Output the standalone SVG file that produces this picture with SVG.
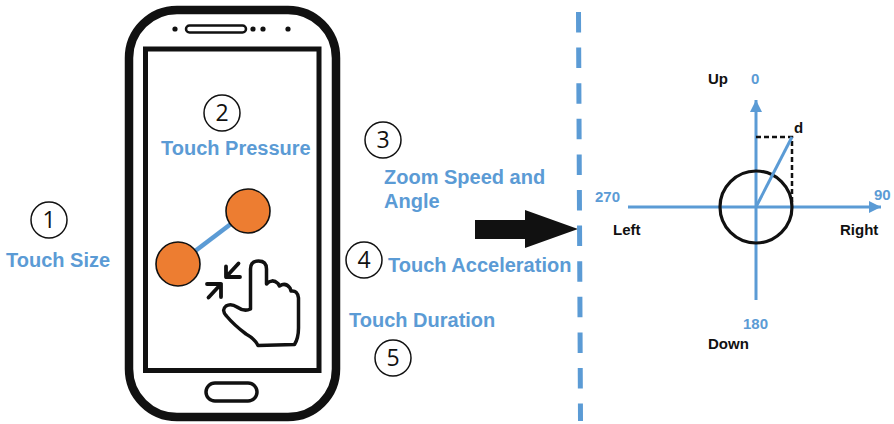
<svg xmlns="http://www.w3.org/2000/svg" width="894" height="424" viewBox="0 0 894 424">
  <defs>
    <style>
      .lbl { font-family: "Liberation Sans", Arial, sans-serif; font-weight: bold; font-size: 20px; fill: #5B9BD5; }
      .num { font-family: "Open Sans", "Liberation Sans", sans-serif; font-size: 23px; fill: #111; text-anchor: middle; }
      .ring { fill: none; stroke: #111; stroke-width: 1.5; }
      .axlbl { font-family: "Liberation Sans", Arial, sans-serif; font-weight: bold; font-size: 15px; fill: #111; }
      .axnum { font-family: "Liberation Sans", Arial, sans-serif; font-weight: bold; font-size: 15px; fill: #5B9BD5; }
      .axis { stroke: #5B9BD5; stroke-width: 3; fill: none; }
      .ink { stroke: #111; fill: none; stroke-linecap: round; stroke-linejoin: round; }
    </style>
    <marker id="axHead" markerUnits="userSpaceOnUse" markerWidth="13" markerHeight="13" refX="12" refY="6" orient="auto">
      <path d="M0,0 L12,6 L0,12 Z" fill="#5B9BD5"/>
    </marker>
  </defs>

  <rect width="894" height="424" fill="#ffffff"/>

  <!-- smartphone body -->
  <g id="phone">
    <rect x="129" y="10" width="207" height="407" rx="48" ry="48" fill="#ffffff" stroke="#111" stroke-width="8.5"/>
    <rect x="145.5" y="49" width="173.5" height="321.5" fill="#ffffff" stroke="#111" stroke-width="5"/>
    <!-- earpiece and sensors -->
    <rect x="186" y="25.5" width="60" height="7" rx="3.5" fill="#ffffff" stroke="#111" stroke-width="2.5"/>
    <circle cx="175" cy="29" r="2.6" fill="#111"/>
    <circle cx="253" cy="29" r="2.6" fill="#111"/>
    <circle cx="263" cy="29" r="2.6" fill="#111"/>
    <circle cx="288" cy="29" r="2.6" fill="#111"/>
    <!-- home button -->
    <rect x="206" y="383" width="51" height="18" rx="9" fill="#ffffff" stroke="#111" stroke-width="3.5"/>
  </g>

  <!-- pinch gesture on the screen -->
  <g id="pinch">
    <line x1="178" y1="264" x2="248" y2="211" stroke="#5B9BD5" stroke-width="4.5"/>
    <circle cx="178" cy="264" r="22" fill="#ED7D31" stroke="#111" stroke-width="1.6"/>
    <circle cx="248" cy="211" r="22" fill="#ED7D31" stroke="#111" stroke-width="1.6"/>
    <!-- inward arrows -->
    <path class="ink" stroke-width="3.8" d="M238.5 263.5 L226 277 M226 266.5 L226 277 L240 277"/>
    <path class="ink" stroke-width="3.8" d="M208.5 297.5 L221 284 M207 284 L221 284 L221 297"/>
    <!-- pointing hand -->
    <path class="ink" stroke-width="3.5" fill="#ffffff"
      d="M250.5 309 L250.5 269 Q250.5 261 258.5 261 Q266.5 261 266.5 269 L266.5 284
         Q272 278 278 283.5 L279.5 286 Q285.5 282 290 288 L291 291
         Q297.5 290 298.5 298 L298.5 328 Q298.5 338 294.5 344.5 L258 345.5
         Q255 339 246 334 Q234 325 226.5 316 Q221 310 226 306 Q231 303 237 307 Q244 312 250.5 309 Z"/>
  </g>

  <!-- feature labels -->
  <g id="touch-size">
    <circle class="ring" cx="49" cy="220" r="18"/>
    <text class="num" x="49" y="228">1</text>
    <text class="lbl" x="6" y="267">Touch Size</text>
  </g>
  <g id="touch-pressure">
    <circle class="ring" cx="222" cy="113" r="18"/>
    <text class="num" x="222" y="121">2</text>
    <text class="lbl" x="161" y="155">Touch Pressure</text>
  </g>
  <g id="zoom-speed">
    <circle class="ring" cx="383" cy="140" r="18"/>
    <text class="num" x="383" y="148">3</text>
    <text class="lbl" x="384" y="184">Zoom Speed and</text>
    <text class="lbl" x="384" y="208">Angle</text>
  </g>
  <g id="touch-acceleration">
    <circle class="ring" cx="364" cy="260" r="18"/>
    <text class="num" x="364" y="268">4</text>
    <text class="lbl" x="388" y="272">Touch Acceleration</text>
  </g>
  <g id="touch-duration">
    <text class="lbl" x="349" y="327">Touch Duration</text>
    <circle class="ring" cx="393" cy="358" r="18"/>
    <text class="num" x="393" y="366">5</text>
  </g>

  <!-- connectors: block arrow and divider -->
  <g id="connectors">
    <path d="M475 220 L525 220 L525 210 L578 229 L525 248 L525 239 L475 239 Z" fill="#111"/>
    <line x1="578.5" y1="12" x2="580.5" y2="421" stroke="#5B9BD5" stroke-width="5" stroke-dasharray="20.5 15.1"/>
  </g>

  <!-- direction / angle chart -->
  <g id="angle-chart">
    <line class="axis" x1="756" y1="300" x2="756" y2="100" marker-end="url(#axHead)"/>
    <line class="axis" x1="628" y1="207" x2="881" y2="207" marker-end="url(#axHead)"/>
    <circle cx="756" cy="207" r="36" fill="none" stroke="#111" stroke-width="3.2"/>
    <path d="M756 137 L792 137 L792 204" fill="none" stroke="#111" stroke-width="2.5" stroke-dasharray="5 3"/>
    <line x1="756" y1="207" x2="792" y2="137" stroke="#5B9BD5" stroke-width="3"/>
    <text class="axlbl" x="794" y="133" font-size="14">d</text>
    <text class="axlbl" x="708" y="84">Up</text>
    <text class="axnum" x="751" y="84">0</text>
    <text class="axnum" x="595" y="202">270</text>
    <text class="axnum" x="874" y="200">90</text>
    <text class="axlbl" x="613" y="235">Left</text>
    <text class="axlbl" x="840" y="235">Right</text>
    <text class="axnum" x="743" y="329">180</text>
    <text class="axlbl" x="708" y="349">Down</text>
  </g>
</svg>
